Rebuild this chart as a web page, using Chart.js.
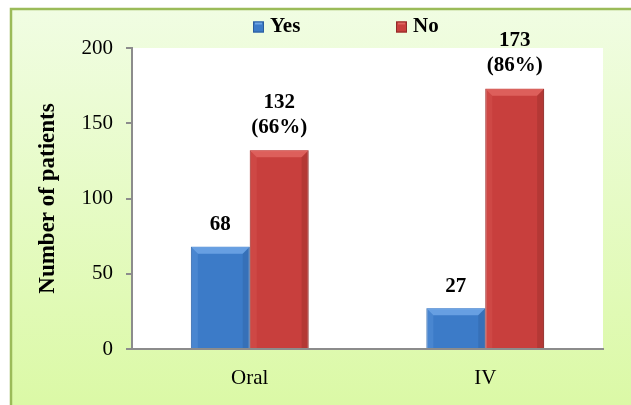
<!DOCTYPE html>
<html>
<head>
<meta charset="utf-8">
<script src="https://cdn.jsdelivr.net/npm/chart.js@4"></script>
<style>
  html, body { margin: 0; padding: 0; background: #fff; }
  #wrap { width: 631px; height: 405px; }
</style>
</head>
<body>
<div id="wrap"><canvas id="chart" width="631" height="405"></canvas></div>
<script>
const categories = ['Oral', 'IV'];
const seriesNames = ['Yes', 'No'];
const yesValues = [68, 27];
const noValues = [132, 173];
const noPercent = [66, 86];
const yTicks = [0, 50, 100, 150, 200];

const serif = "'Liberation Serif', 'Times New Roman', serif";
const colors = {
  Yes: { main: '#3c7bc8', light: '#6ea6e6', dark: '#2b5d9c' },
  No:  { main: '#c83f3d', light: '#e06560', dark: '#8f2b29' }
};

// green frame + white plot area
const backdrop = {
  id: 'backdrop',
  beforeDraw(chart) {
    const { ctx, chartArea: a } = chart;
    ctx.save();
    const g = ctx.createLinearGradient(0, 0, 0, chart.height);
    g.addColorStop(0, '#f1fde4');
    g.addColorStop(1, '#dbf9a6');
    ctx.fillStyle = g;
    ctx.fillRect(0, 0, chart.width, chart.height);
    ctx.fillStyle = '#fff';
    ctx.fillRect(0, 0, chart.width, 8);
    ctx.fillRect(0, 0, 10, chart.height);
    ctx.strokeStyle = '#9bbb59';
    ctx.lineWidth = 2.5;
    ctx.strokeRect(11, 9, chart.width + 20, chart.height + 20);
    ctx.fillStyle = '#fff';
    ctx.fillRect(a.left, a.top, a.right - a.left, a.bottom - a.top);
    ctx.restore();
  }
};

// bevel look on bars + value labels
const barDecor = {
  id: 'barDecor',
  afterDatasetsDraw(chart) {
    const { ctx } = chart;
    ctx.save();
    chart.data.datasets.forEach((ds, di) => {
      const c = colors[ds.label];
      chart.getDatasetMeta(di).data.forEach((bar, i) => {
        const l = bar.x - bar.width / 2, r = bar.x + bar.width / 2;
        const t = bar.y, b = bar.base;
        const bev = Math.min(7, (b - t) / 3);
        ctx.fillStyle = c.light;
        ctx.globalAlpha = 0.85;
        ctx.beginPath();
        ctx.moveTo(l, t); ctx.lineTo(r, t); ctx.lineTo(r - bev, t + bev); ctx.lineTo(l + bev, t + bev);
        ctx.closePath(); ctx.fill();
        ctx.globalAlpha = 0.25;
        ctx.beginPath();
        ctx.moveTo(l, t); ctx.lineTo(l + bev, t + bev); ctx.lineTo(l + bev, b); ctx.lineTo(l, b);
        ctx.closePath(); ctx.fill();
        ctx.fillStyle = c.dark;
        ctx.globalAlpha = 0.35;
        ctx.beginPath();
        ctx.moveTo(r, t); ctx.lineTo(r - bev, t + bev); ctx.lineTo(r - bev, b); ctx.lineTo(r, b);
        ctx.closePath(); ctx.fill();
        ctx.globalAlpha = 1;

        ctx.fillStyle = '#000';
        ctx.font = 'bold 21px ' + serif;
        ctx.textAlign = 'center';
        ctx.textBaseline = 'middle';
        const v = ds.data[i];
        if (ds.label === 'No') {
          ctx.fillText('(' + noPercent[i] + '%)', bar.x, t - 23);
          ctx.fillText(String(v), bar.x, t - 48);
        } else {
          ctx.fillText(String(v), bar.x, t - 22);
        }
      });
    });
    ctx.restore();
  }
};

// legend row at the top
const topLegend = {
  id: 'topLegend',
  afterDraw(chart) {
    const { ctx } = chart;
    ctx.save();
    ctx.font = 'bold 21px ' + serif;
    ctx.textBaseline = 'middle';
    ctx.textAlign = 'left';
    chart.data.datasets.forEach((ds, i) => {
      const c = colors[ds.label];
      const x = 253 + i * 143, y = 27;
      ctx.fillStyle = c.main;
      ctx.fillRect(x, y - 5.5, 11, 11);
      ctx.fillStyle = c.light;
      ctx.fillRect(x + 2, y - 5.5, 7, 3);
      ctx.strokeStyle = c.dark;
      ctx.lineWidth = 1;
      ctx.strokeRect(x + 0.5, y - 5, 10, 10);
      ctx.fillStyle = '#000';
      ctx.fillText(ds.label, x + 17, y);
    });
    ctx.restore();
  }
};

const ctx = document.getElementById('chart');

const chart = new Chart(ctx, {
  type: 'bar',
  data: {
    labels: categories,
    datasets: [
      { label: seriesNames[0], data: yesValues, backgroundColor: colors.Yes.main, borderColor: colors.Yes.dark, borderWidth: 1 },
      { label: seriesNames[1], data: noValues, backgroundColor: colors.No.main, borderColor: colors.No.dark, borderWidth: 1 }
    ]
  },
  options: {
    responsive: false,
    animation: false,
    layout: { padding: { top: 48, right: 28, left: 0, bottom: 0 } },
    datasets: { bar: { categoryPercentage: 0.5, barPercentage: 1 } },
    plugins: {
      legend: { display: false },
      tooltip: { enabled: false }
    },
    scales: {
      x: {
        grid: { display: false },
        border: { display: true, color: '#8c8c8c', width: 2 },
        ticks: { color: '#000', font: { family: serif, size: 21 }, padding: 9 },
        afterFit: s => { s.height = 56; }
      },
      y: {
        min: 0,
        max: 200,
        afterBuildTicks: s => { s.ticks = yTicks.map(v => ({ value: v })); },
        ticks: { color: '#000', font: { family: serif, size: 21 }, padding: 13 },
        grid: { drawOnChartArea: false, tickLength: 6, color: '#8c8c8c', lineWidth: 2 },
        border: { color: '#8c8c8c', width: 2 },
        title: {
          display: true,
          text: 'Number of patients',
          color: '#000',
          font: { family: serif, size: 23, weight: 'bold' },
          padding: { top: 34, bottom: 0 }
        },
        afterFit: s => { s.width = 132; }
      }
    }
  },
  plugins: [backdrop, barDecor, topLegend]
});
</script>
</body>
</html>
